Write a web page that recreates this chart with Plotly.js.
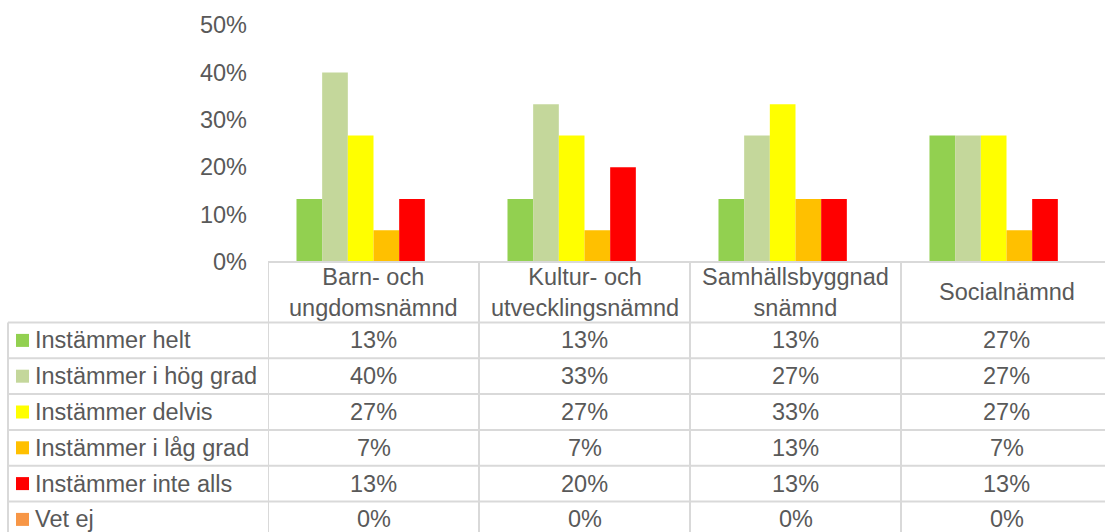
<!DOCTYPE html>
<html>
<head>
<meta charset="utf-8">
<script src="https://cdn.plot.ly/plotly-3.0.1.min.js"></script>
<style>html,body{margin:0;padding:0;background:#fff;}#chart{width:1105px;height:532px;}</style>
</head>
<body>
<div id="chart"></div>
<script>
// ---- data ----
var categories = ["Barn- och ungdomsnämnd", "Kultur- och utvecklingsnämnd", "Samhällsbyggnadsnämnd", "Socialnämnd"];
var categoryHeaders = ["Barn- och<br>ungdomsnämnd", "Kultur- och<br>utvecklingsnämnd", "Samhällsbyggnad<br>snämnd", "Socialnämnd"];
var seriesNames = ["Instämmer helt", "Instämmer i hög grad", "Instämmer delvis", "Instämmer i låg grad", "Instämmer inte alls", "Vet ej"];
var instammerHelt     = [13.3, 13.3, 13.3, 26.7];
var instammerHogGrad  = [40.0, 33.3, 26.7, 26.7];
var instammerDelvis   = [26.7, 26.7, 33.3, 26.7];
var instammerLagGrad  = [6.7, 6.7, 13.3, 6.7];
var instammerInteAlls = [13.3, 20.0, 13.3, 13.3];
var vetEj             = [0, 0, 0, 0];
var seriesValues = [instammerHelt, instammerHogGrad, instammerDelvis, instammerLagGrad, instammerInteAlls, vetEj];
var seriesColors = ["#92D050", "#C4D79B", "#FFFF00", "#FFC000", "#FF0000", "#F79646"];
var yTicks = [0, 10, 20, 30, 40, 50];

// ---- geometry (pixels) ----
var W = 1105, H = 532;
var mL = 268, mT = 25, mB = 0, mR = 0;
var plotW = W - mL - mR, plotH = H - mT - mB;
var colW = 211;
var axisBottom = 262;
var headerBottom = 322.5;
var rowH = 35.8;
var textColor = "#595959";
var gridColor = "#D9D9D9";
var fontFam = "Liberation Sans, Arial, sans-serif";
var fs = 23.5;

function px(x) { return (x - mL) / plotW; }
function py(y) { return (H - mB - y) / plotH; }

var traces = seriesNames.map(function (name, i) {
  return {
    type: "bar",
    name: name,
    x: categories,
    y: seriesValues[i],
    marker: { color: seriesColors[i], line: { width: 0 } },
    hoverinfo: "x+y+name",
    showlegend: false
  };
});

var shapes = [];
var annotations = [];
var lineStyle = { color: gridColor, width: 2 };
var tableBottom = headerBottom + rowH * seriesNames.length;

// header top line
shapes.push({ type: "line", xref: "paper", yref: "paper", x0: 0, x1: 1.05, y0: py(axisBottom), y1: py(axisBottom), line: lineStyle, layer: "above" });
// row lines
for (var r = 0; r <= seriesNames.length; r++) {
  var yy = headerBottom + r * rowH;
  shapes.push({ type: "line", xref: "paper", yref: "paper", x0: px(8), x1: 1.05, y0: py(yy), y1: py(yy), line: lineStyle });
}
// left border of label column
shapes.push({ type: "line", xref: "paper", yref: "paper", x0: px(8), x1: px(8), y0: py(headerBottom), y1: py(tableBottom), line: lineStyle });
// column borders
for (var c = 0; c <= categories.length; c++) {
  shapes.push({ type: "line", xref: "x", yref: "paper", x0: c - 0.5, x1: c - 0.5, y0: py(axisBottom), y1: py(tableBottom), line: lineStyle });
}

// header texts
categories.forEach(function (cat, i) {
  annotations.push({
    xref: "x", yref: "paper", x: cat, y: py((axisBottom + headerBottom) / 2),
    text: categoryHeaders[i], showarrow: false, xanchor: "center", yanchor: "middle",
    font: { family: fontFam, size: fs, color: textColor }
  });
});

// rows
seriesNames.forEach(function (name, r) {
  var yc = headerBottom + (r + 0.5) * rowH;
  shapes.push({ type: "rect", xref: "paper", yref: "paper", x0: px(16), x1: px(29), y0: py(yc - 6.5), y1: py(yc + 6.5), fillcolor: seriesColors[r], line: { width: 0 } });
  annotations.push({
    xref: "paper", yref: "paper", x: px(33), y: py(yc),
    text: name, showarrow: false, xanchor: "left", yanchor: "middle",
    font: { family: fontFam, size: fs, color: textColor }
  });
  categories.forEach(function (cat, i) {
    annotations.push({
      xref: "x", yref: "paper", x: cat, y: py(yc),
      text: Math.round(seriesValues[r][i]) + "%", showarrow: false, xanchor: "center", yanchor: "middle",
      font: { family: fontFam, size: fs, color: textColor }
    });
  });
});

var layout = {
  width: W, height: H,
  margin: { l: mL, r: mR, t: mT, b: mB, pad: 0 },
  paper_bgcolor: "#ffffff", plot_bgcolor: "#ffffff",
  font: { family: fontFam, size: fs, color: textColor },
  barmode: "group",
  bargap: 0.27,
  bargroupgap: 0,
  showlegend: false,
  xaxis: {
    type: "category",
    range: [-0.5, -0.5 + plotW / colW],
    showticklabels: false, showgrid: false, zeroline: false, showline: false, ticks: "",
    fixedrange: true
  },
  yaxis: {
    domain: [py(axisBottom), 1],
    range: [0, 50],
    tickvals: yTicks,
    ticktext: yTicks.map(function (t) { return t + "%"; }),
    showgrid: false, zeroline: false, showline: false, ticks: "",
    ticklabelstandoff: 20,
    tickfont: { family: fontFam, size: fs, color: textColor },
    fixedrange: true
  },
  shapes: shapes,
  annotations: annotations
};

Plotly.newPlot("chart", traces, layout, { staticPlot: true, displayModeBar: false });
</script>
</body>
</html>
